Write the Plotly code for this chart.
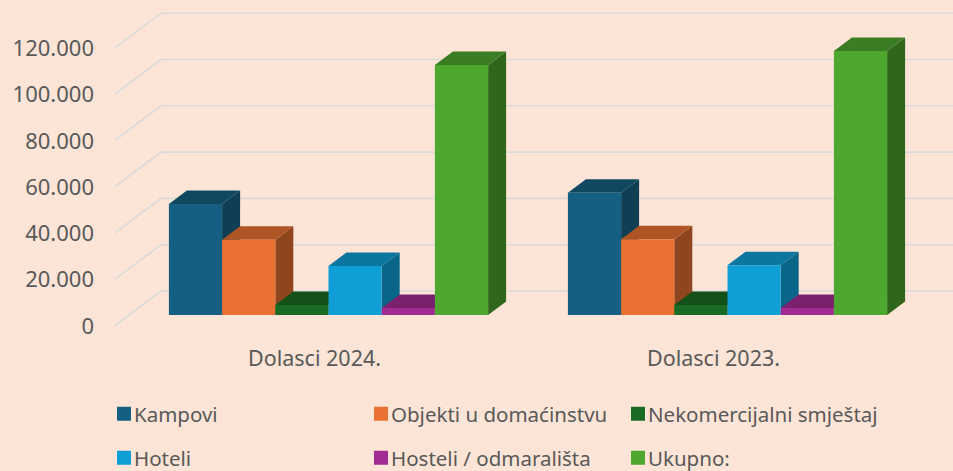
import plotly.graph_objects as go

# --- data ---
groups = ["Dolasci 2024.", "Dolasci 2023."]
kampovi = [48000, 52800]
objekti = [32500, 32700]
nekomercijalni = [4300, 4300]
hoteli = [21200, 21500]
hosteli = [3000, 3000]
ukupno = [108000, 114000]
series_names = ["Kampovi", "Objekti u domaćinstvu", "Nekomercijalni smještaj",
                "Hoteli", "Hosteli / odmarališta", "Ukupno:"]
series_values = [kampovi, objekti, nekomercijalni, hoteli, hosteli, ukupno]
tick_values = [0, 20000, 40000, 60000, 80000, 100000, 120000]
tick_labels = ["0", "20.000", "40.000", "60.000", "80.000", "100.000", "120.000"]

front = ["#156082", "#E97132", "#196B24", "#0F9ED5", "#A02B93", "#4EA72E"]
top = ["#104862", "#AF5525", "#135119", "#0B77A0", "#7A206F", "#3A7D22"]
side = ["#0E3F55", "#8F451E", "#104519", "#096689", "#681B5F", "#2F661C"]
bg = "#FCE4D6"
grid = "#DADADA"
text = "#595959"
font = "Noto Sans"

# --- scales of the picture ---
W, H = 953, 471
LEFT, BOTTOM = 115, 340
UY = 20000 / 46.3        # value units per pixel
UX = 1 / 399             # group units per pixel
BW = 0.8 / 6             # bar width in group units
BAR_DX, BAR_DY = 18 * UX, 13.5 * UY
WALL_DX, WALL_DY = 46 * UX, 34.5 * UY
x_range = [(LEFT - 328.5) * UX, (W - 328.5) * UX]
label_range = [-(BOTTOM - 326) * UY, 326 * UY]
bar_range = [-(BOTTOM - 315) * UY, 315 * UY]
label_shift = -14 * UX

fig = go.Figure()

# wall grid (in the frame of the axis labels)
for v in tick_values:
    fx = x_range[0]
    fig.add_trace(go.Scatter(
        x=[fx, fx + WALL_DX, x_range[1]],
        y=[v + 0.5 * UY, v + 0.5 * UY + WALL_DY, v + 0.5 * UY + WALL_DY],
        mode="lines", line=dict(color=grid, width=1.6), showlegend=False, hoverinfo="skip",
        xaxis="x", yaxis="y"))

# depth faces of every bar
for g in range(len(groups)):
    for i, vals in enumerate(series_values):
        v = vals[g]
        x0 = g + (i - 2.5) * BW - BW / 2
        x1 = x0 + BW
        fig.add_trace(go.Scatter(
            x=[x1, x1 + BAR_DX, x1 + BAR_DX, x1, x1],
            y=[0, BAR_DY, v + BAR_DY, v, 0],
            mode="lines", fill="toself", fillcolor=side[i], line=dict(width=0),
            showlegend=False, hoverinfo="skip", xaxis="x2", yaxis="y2"))
        fig.add_trace(go.Scatter(
            x=[x0, x1, x1 + BAR_DX, x0 + BAR_DX, x0],
            y=[v, v, v + BAR_DY, v + BAR_DY, v],
            mode="lines", fill="toself", fillcolor=top[i], line=dict(width=0),
            showlegend=False, hoverinfo="skip", xaxis="x2", yaxis="y2"))

# front faces
for i, (name, vals) in enumerate(zip(series_names, series_values)):
    fig.add_trace(go.Bar(
        x=[0, 1], y=vals, name=name, marker=dict(color=front[i], line=dict(color=front[i], width=0)),
        xaxis="x3", yaxis="y3", legend="legend" if i < 3 else "legend2"))

hidden = dict(visible=False, fixedrange=True)
legend_common = dict(orientation="h", entrywidth=212, entrywidthmode="pixels", xanchor="left",
                     yanchor="middle", bgcolor="rgba(0,0,0,0)", itemclick=False,
                     font=dict(family=font, size=20.5, color=text), traceorder="normal")
fig.update_layout(
    width=W, height=H, autosize=False,
    margin=dict(l=LEFT, r=0, t=0, b=H - BOTTOM, autoexpand=False),
    paper_bgcolor=bg, plot_bgcolor="rgba(0,0,0,0)",
    barmode="group", bargap=0.2, bargroupgap=0,
    xaxis=dict(range=x_range, tickvals=[label_shift, 1 + label_shift], ticktext=groups,
               showgrid=False, zeroline=False, showline=False, ticks="", ticklabelstandoff=3,
               tickfont=dict(family=font, size=21.5, color=text)),
    yaxis=dict(range=label_range, tickvals=tick_values, ticktext=tick_labels, showgrid=False,
               zeroline=False, showline=False, ticks="", ticklabelstandoff=20,
               tickfont=dict(family=font, size=22, color=text)),
    xaxis2=dict(range=x_range, overlaying="x", **hidden),
    yaxis2=dict(range=bar_range, overlaying="y", **hidden),
    xaxis3=dict(range=x_range, overlaying="x", **hidden),
    yaxis3=dict(range=bar_range, overlaying="y", **hidden),
    legend=dict(x=(104 - LEFT) / (W - LEFT), y=1 - 414 / BOTTOM, **legend_common),
    legend2=dict(x=(104 - LEFT) / (W - LEFT), y=1 - 458 / BOTTOM, **legend_common),
)
post = """
document.body.style.margin='0';
document.documentElement.style.background='%s';
function tidyLegend(){
  document.querySelectorAll('.legendtext, .legend2text').forEach(function(t){t.setAttribute('x','30');});
  document.querySelectorAll('.legendpoints path').forEach(function(p){
    p.style.stroke=p.style.fill; p.style.strokeWidth='2px';});
  document.querySelectorAll('.legend .scrollbox, .legend2 .scrollbox').forEach(function(s){
    s.removeAttribute('clip-path');});
}
tidyLegend();
setInterval(tidyLegend, 50);
""" % bg
fig.write_html("out.html", post_script=post, config=dict(displayModeBar=False))
